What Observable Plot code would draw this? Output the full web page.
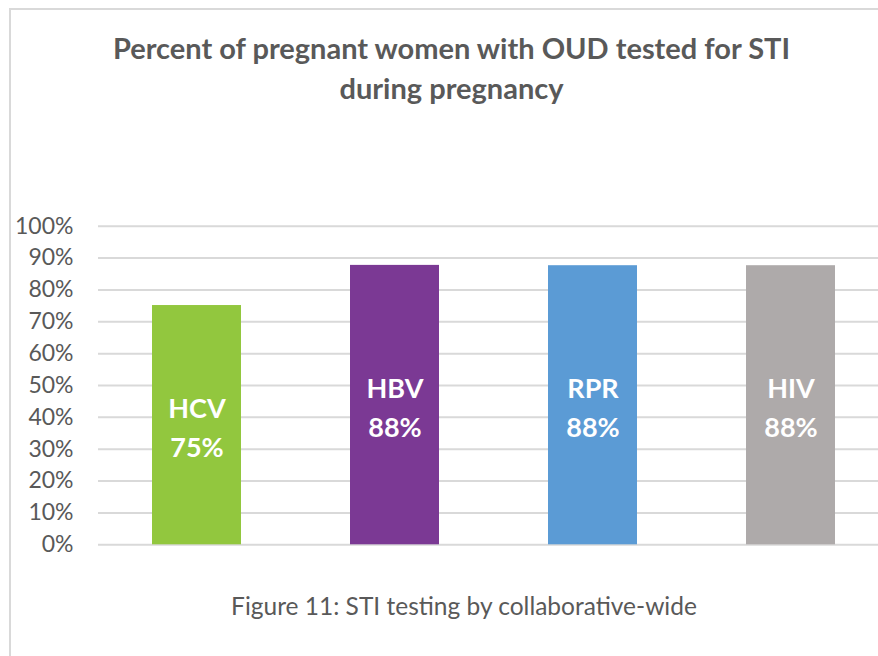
<!DOCTYPE html>
<html>
<head>
<meta charset="utf-8">
<script src="https://cdn.jsdelivr.net/npm/d3@7"></script>
<script src="https://cdn.jsdelivr.net/npm/@observablehq/plot@0.6"></script>
<style>
  html, body { margin: 0; padding: 0; background: #fff; }
  #page { position: relative; width: 878px; height: 656px; overflow: hidden; font-family: Lato, "Open Sans", sans-serif; }
  #frame { position: absolute; left: 9px; top: 8px; width: 2000px; height: 2000px; border-left: 2px solid #d9d9d9; border-top: 2px solid #d9d9d9; }
  #title { position: absolute; left: 10px; width: 883px; top: 28px; text-align: center; font-weight: bold; font-size: 29px; line-height: 39.5px; color: #595959; }
  #chart { position: absolute; left: 0; top: 200px; }
  #caption { position: absolute; left: 0; width: 928px; top: 593px; text-align: center; font-size: 24.5px; line-height: 26px; color: #595959; }
</style>
</head>
<body>
<div id="page">
  <div id="frame"></div>
  <div id="title">Percent of pregnant women with OUD tested for STI<br>during pregnancy</div>
  <div id="chart"></div>
  <div id="caption">Figure 11: STI testing by collaborative-wide</div>
</div>
<script>
const categories = ["HCV", "HBV", "RPR", "HIV"];
const values = [0.751, 0.877, 0.876, 0.876];
const colors = ["#92C73E", "#7B3994", "#5B9BD5", "#AEAAAA"];
const yTicks = [0, 0.1, 0.2, 0.3, 0.4, 0.5, 0.6, 0.7, 0.8, 0.9, 1.0];

const data = categories.map((c, i) => ({name: c, value: values[i], color: colors[i]}));
const pct = d3.format(".0%");

const plot = Plot.plot({
  width: 878,
  height: 360,
  marginLeft: 98,
  marginRight: 0,
  marginTop: 0,
  marginBottom: 0,
  style: {fontFamily: "Lato, 'Open Sans', sans-serif", background: "transparent", overflow: "hidden"},
  x: {domain: categories, range: [98, 890], paddingInner: 0.55, paddingOuter: 0.275, axis: null},
  y: {domain: [0, 1], range: [344.3, 25.7]},
  marks: [
    Plot.gridY(yTicks, {stroke: "#d9d9d9", strokeOpacity: 1, strokeWidth: 2}),
    Plot.axisY({ticks: yTicks, tickSize: 0, tickPadding: 25, tickFormat: pct, fontSize: 23, fill: "#595959", label: null}),
    Plot.barY(data, {x: "name", y: "value", fill: "color"}),
    Plot.text(data, {
      x: "name",
      y: d => d.value / 2,
      text: d => `${d.name}\n${pct(d.value)}`,
      fill: "white",
      fontWeight: "bold",
      fontSize: 27,
      lineHeight: 1.45
    })
  ]
});
document.getElementById("chart").appendChild(plot);
</script>
</body>
</html>
